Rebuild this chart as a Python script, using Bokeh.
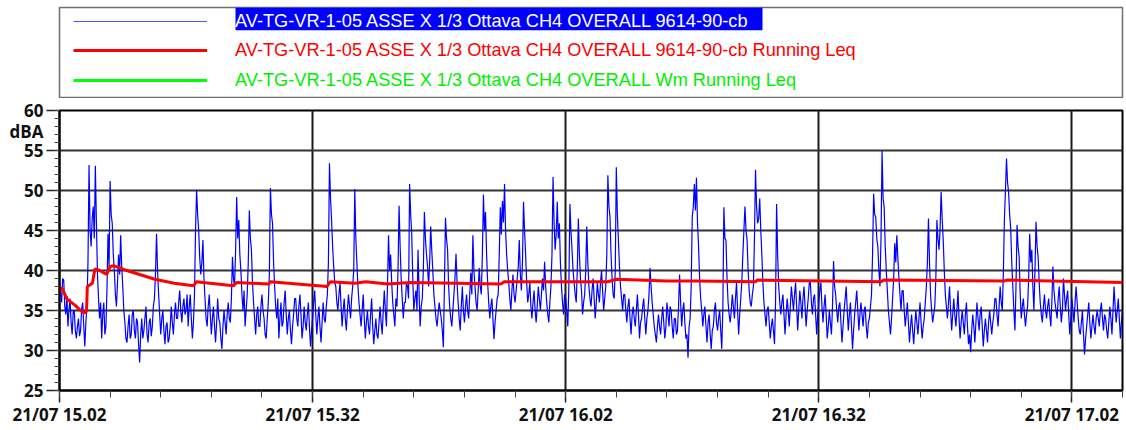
import numpy as np
import pandas as pd
from bokeh.plotting import figure
from bokeh.layouts import column
from bokeh.models import (FixedTicker, DatetimeTickFormatter, Range1d, Legend,
                          LegendItem, BoxAnnotation, LinearAxis, NumeralTickFormatter)
from bokeh.embed import file_html
from bokeh.resources import INLINE

# ---------------- data ----------------
start_time = "2021-07-21 15:02:00"
end_minutes = 126
sample_seconds = 7.5

series_names = [
    "AV-TG-VR-1-05 ASSE X 1/3 Ottava CH4 OVERALL 9614-90-cb",
    "AV-TG-VR-1-05 ASSE X 1/3 Ottava CH4 OVERALL 9614-90-cb Running Leq",
    "AV-TG-VR-1-05 ASSE X 1/3 Ottava CH4 OVERALL Wm Running Leq",
]

# 1/3 octave overall level, dBA, one value every 7.5 s (eight per minute, one row per minute)
level_dba = [
    38.5, 37.2, 36.0, 39.0, 38.8, 35.5, 34.5, 36.8,
    33.0, 35.0, 36.5, 33.5, 32.0, 34.8, 35.0, 32.5,
    31.5, 33.0, 34.0, 31.8, 32.5, 35.2, 36.0, 33.0,
    30.5, 33.5, 35.5, 41.0, 53.2, 45.0, 43.0, 46.5,
    48.0, 44.0, 53.1, 46.0, 39.5, 36.5, 34.0, 36.0,
    31.5, 34.5, 36.0, 32.0, 33.0, 37.5, 44.6, 40.5,
    51.2, 47.0, 45.9, 42.0, 40.0, 37.0, 35.5, 38.5,
    42.0, 39.5, 44.4, 40.5, 38.0, 35.0, 33.5, 31.5,
    31.0, 33.0, 34.5, 31.5, 32.0, 34.5, 35.0, 32.5,
    31.5, 34.0, 33.5, 30.8, 28.5, 32.0, 34.0, 31.5,
    32.5, 34.0, 35.5, 32.0, 31.0, 33.5, 34.0, 31.8,
    33.0, 35.5, 36.5, 39.5, 44.6, 40.0, 37.0, 34.5,
    32.0, 34.0, 35.0, 32.5, 30.8, 33.0, 33.5, 31.0,
    31.5, 33.0, 35.5, 33.5, 32.0, 34.5, 36.0, 34.0,
    34.0, 36.0, 37.5, 35.0, 33.5, 35.5, 36.5, 34.5,
    35.0, 37.0, 33.0, 35.5, 37.0, 34.0, 31.5, 33.5,
    37.0, 45.0, 50.1, 47.0, 45.0, 41.5, 39.5, 41.0,
    43.8, 39.0, 36.5, 34.0, 33.0, 35.5, 37.0, 34.5,
    32.0, 34.0, 35.5, 33.0, 31.0, 33.5, 36.5, 34.0,
    33.5, 31.5, 30.2, 33.0, 35.0, 33.5, 32.0, 34.5,
    36.0, 34.0, 33.5, 36.5, 41.7, 39.0, 38.0, 42.5,
    49.2, 44.0, 46.3, 42.0, 40.0, 37.0, 35.0, 37.5,
    33.0, 35.0, 37.0, 41.0, 47.5, 44.0, 42.6, 38.5,
    36.0, 34.0, 32.0, 34.5, 35.5, 33.0, 33.0, 35.5,
    37.0, 35.0, 34.0, 32.0, 31.5, 34.0, 36.0, 39.5,
    50.3, 47.0, 45.9, 41.0, 38.0, 35.5, 34.0, 36.5,
    31.5, 34.0, 36.0, 33.0, 33.5, 36.0, 37.5, 34.5,
    32.0, 34.0, 35.0, 32.5, 30.8, 33.0, 34.5, 36.5,
    36.5, 34.0, 33.0, 35.5, 37.0, 34.5, 31.5, 33.0,
    35.5, 33.5, 32.5, 34.5, 36.0, 33.0, 30.5, 32.5,
    34.0, 36.0, 37.5, 34.5, 32.0, 34.0, 35.5, 33.0,
    31.0, 33.5, 36.0, 34.0, 33.5, 35.5, 37.0, 41.0,
    53.4, 49.0, 46.3, 43.0, 40.5, 38.5, 38.0, 36.0,
    35.0, 37.0, 38.5, 35.5, 33.0, 35.0, 36.5, 34.0,
    32.5, 35.0, 37.0, 35.5, 34.0, 36.5, 38.0, 40.0,
    50.2, 44.0, 40.9, 38.0, 36.0, 34.5, 33.0, 35.0,
    37.0, 34.0, 31.5, 33.5, 35.0, 33.0, 32.0, 34.5,
    36.5, 33.0, 30.8, 32.5, 34.0, 32.0, 31.5, 33.5,
    35.5, 33.5, 32.0, 35.0, 37.5, 35.0, 33.0, 38.0,
    44.4, 40.0, 42.0, 38.5, 36.0, 34.5, 33.0, 36.5,
    35.5, 40.0, 48.1, 43.0, 39.0, 36.5, 34.0, 36.0,
    36.0, 38.5, 38.0, 36.5, 50.8, 47.0, 44.6, 39.0,
    35.0, 36.5, 37.5, 35.0, 42.6, 37.0, 33.0, 35.5,
    36.5, 40.0, 47.3, 44.0, 42.0, 40.5, 38.0, 41.0,
    45.5, 42.5, 40.0, 37.0, 35.5, 34.0, 33.0, 34.5,
    36.0, 35.0, 34.0, 32.5, 30.4, 38.0, 46.6, 44.0,
    42.6, 38.0, 35.5, 34.0, 33.0, 35.0, 37.0, 39.0,
    42.1, 38.5, 36.0, 34.0, 32.5, 35.5, 38.0, 35.0,
    33.5, 35.5, 37.0, 35.0, 34.0, 37.0, 39.7, 37.0,
    44.4, 40.0, 38.0, 36.0, 35.0, 37.5, 40.3, 38.0,
    37.0, 42.0, 49.5, 45.0, 47.3, 42.0, 38.5, 36.0,
    34.0, 35.5, 36.5, 34.0, 31.4, 33.5, 35.0, 36.5,
    37.0, 42.0, 47.9, 44.5, 48.7, 46.0, 50.8, 45.0,
    42.0, 40.0, 38.5, 36.5, 35.0, 37.5, 39.5, 37.0,
    36.0, 37.5, 39.0, 40.5, 43.8, 39.5, 37.5, 41.0,
    48.6, 45.0, 42.0, 38.5, 36.0, 37.0, 38.5, 35.5,
    34.0, 36.0, 37.5, 35.0, 33.5, 35.5, 38.0, 36.5,
    35.0, 37.0, 39.0, 37.5, 41.1, 38.0, 36.0, 34.5,
    33.5, 36.0, 38.0, 42.0, 51.7, 46.0, 42.6, 44.5,
    48.6, 44.0, 45.9, 41.0, 38.0, 36.0, 34.5, 37.0,
    36.5, 35.0, 33.0, 38.0, 48.3, 45.0, 42.6, 40.0,
    38.5, 37.0, 36.0, 40.0, 46.5, 42.0, 39.0, 37.5,
    34.5, 36.0, 37.0, 40.0, 45.5, 41.0, 38.0, 36.5,
    35.5, 37.5, 39.0, 36.5, 34.0, 36.0, 38.5, 37.0,
    36.0, 38.5, 40.0, 37.5, 35.0, 36.5, 38.0, 42.0,
    51.9, 48.0, 46.7, 42.0, 39.0, 37.0, 36.5, 40.0,
    52.9, 47.0, 43.8, 40.5, 38.0, 36.5, 35.0, 37.0,
    37.0, 35.0, 33.5, 35.5, 36.5, 34.0, 32.0, 34.5,
    35.5, 34.0, 33.0, 35.0, 37.0, 34.5, 31.5, 33.5,
    34.0, 35.5, 36.5, 34.0, 32.0, 34.0, 35.0, 37.0,
    40.3, 38.0, 36.0, 34.5, 33.0, 32.0, 31.0, 33.0,
    34.5, 33.0, 32.0, 34.0, 35.5, 33.5, 31.5, 33.0,
    36.0, 34.5, 33.0, 35.5, 35.0, 33.0, 31.5, 34.0,
    34.0, 32.0, 32.5, 35.5, 39.5, 36.0, 33.0, 35.0,
    36.0, 33.5, 31.5, 32.0, 29.1, 33.0, 34.0, 38.0,
    46.7, 48.0, 50.8, 47.5, 51.6, 46.0, 43.0, 39.0,
    36.5, 35.0, 33.0, 34.5, 35.5, 33.0, 31.0, 33.5,
    34.5, 32.0, 30.2, 32.5, 33.0, 35.0, 36.0, 33.5,
    32.5, 34.0, 35.0, 32.5, 30.2, 35.0, 47.9, 44.0,
    43.8, 39.0, 36.0, 34.5, 33.5, 35.0, 37.0, 35.5,
    34.0, 36.5, 38.5, 35.0, 32.0, 34.5, 36.5, 38.5,
    42.0, 45.0, 48.0, 45.0, 43.8, 40.0, 37.5, 36.0,
    35.5, 37.0, 38.0, 44.0, 52.6, 48.0, 45.9, 46.5,
    49.0, 45.0, 42.0, 38.5, 36.0, 34.5, 33.0, 35.0,
    35.5, 33.5, 31.5, 33.0, 34.0, 32.5, 30.8, 36.0,
    48.3, 42.0, 38.0, 36.0, 34.5, 36.0, 37.0, 34.5,
    32.0, 34.5, 36.5, 35.0, 33.0, 35.5, 38.0, 36.5,
    35.0, 37.0, 38.5, 35.5, 32.5, 35.0, 37.5, 36.0,
    34.0, 36.5, 38.0, 35.5, 33.0, 35.0, 36.5, 38.5,
    38.5, 36.0, 34.5, 36.5, 37.0, 34.5, 32.0, 34.5,
    36.0, 37.5, 38.5, 35.5, 33.5, 35.5, 37.0, 34.5,
    31.5, 33.0, 35.0, 33.5, 32.0, 35.5, 41.2, 38.0,
    37.0, 35.0, 33.5, 35.5, 36.0, 33.5, 31.0, 33.0,
    35.0, 36.5, 38.0, 35.0, 32.5, 34.5, 36.0, 33.0,
    30.2, 32.5, 34.5, 36.0, 37.5, 35.0, 32.5, 34.5,
    36.0, 34.5, 33.0, 35.0, 35.5, 33.0, 31.5, 33.5,
    34.0, 35.5, 37.0, 42.0, 49.6, 47.0, 46.7, 44.0,
    43.0, 40.0, 38.0, 44.0, 55.0, 49.0, 47.9, 43.0,
    40.0, 37.5, 35.0, 33.5, 32.0, 34.0, 36.5, 39.0,
    43.4, 41.0, 44.4, 41.5, 39.0, 37.0, 35.0, 37.5,
    37.5, 35.0, 33.0, 34.5, 36.0, 33.5, 31.0, 33.0,
    34.5, 32.5, 30.8, 33.0, 35.0, 33.5, 32.0, 34.0,
    36.0, 33.5, 31.5, 33.0, 34.0, 36.0, 38.0, 41.0,
    46.5, 41.0, 37.0, 35.0, 33.5, 34.5, 35.5, 39.0,
    46.3, 44.0, 42.6, 45.0, 49.8, 46.5, 43.8, 40.0,
    37.0, 35.5, 34.0, 36.0, 38.0, 35.0, 32.5, 34.5,
    36.5, 34.5, 33.0, 35.0, 37.5, 34.0, 31.5, 33.5,
    35.0, 33.5, 32.0, 34.5, 36.0, 33.0, 30.8, 32.0,
    29.8, 32.5, 34.5, 33.0, 31.0, 33.5, 36.0, 34.0,
    32.5, 34.5, 35.5, 33.0, 30.5, 32.5, 34.0, 32.5,
    31.0, 33.5, 35.0, 33.5, 32.0, 33.5, 34.5, 36.5,
    36.5, 34.5, 33.0, 35.5, 38.0, 36.0, 35.0, 39.5,
    46.3, 50.0, 54.0, 51.0, 49.8, 47.0, 45.2, 41.0,
    38.0, 35.0, 32.5, 38.0, 45.7, 43.0, 41.7, 37.0,
    34.0, 35.5, 36.5, 34.5, 33.0, 34.5, 35.5, 39.0,
    44.6, 41.0, 42.6, 38.0, 35.0, 40.0, 46.1, 43.0,
    41.7, 38.5, 36.0, 34.5, 33.5, 35.5, 37.0, 35.0,
    34.0, 35.5, 36.5, 34.5, 33.0, 36.0, 40.5, 37.5,
    36.0, 35.0, 34.0, 36.5, 38.0, 35.5, 33.5, 35.0,
    39.0, 37.0, 35.0, 36.5, 37.5, 34.5, 32.0, 34.0,
    36.5, 35.0, 33.5, 36.0, 38.0, 36.0, 34.0, 32.5,
    32.0, 33.5, 35.0, 32.0, 29.5, 31.5, 33.0, 34.5,
    36.0, 33.5, 31.5, 33.0, 34.5, 33.0, 32.0, 34.0,
    35.0, 34.0, 33.0, 35.0, 36.0, 34.0, 32.5, 34.5,
    34.0, 32.5, 31.5, 33.5, 35.5, 34.0, 32.0, 35.0,
    38.0, 35.5, 33.5, 35.0, 36.5, 34.0, 31.5, 33.5,
    35.0,
]

# running Leq (minutes after start, dBA)
leq_minutes = [0, 0.3, 0.9, 1.8, 2.5, 3.0, 3.2, 3.3, 3.9, 4.2, 4.6, 5.6, 6.0,
               6.4, 7.7, 11.3, 13.6, 15.9, 16.2, 20.6, 21.0, 24.8, 25.0, 31.7,
               32.1, 35.0, 36.3, 38.9, 41.6, 52.3, 52.7, 65.0, 66.0, 72.0,
               75.5, 82.5, 82.7, 91.0, 97.4, 97.7, 112.0, 112.3, 126.0]
leq_dba = [37.6, 37.8, 36.4, 35.7, 35.0, 34.7, 34.9, 38.0, 38.4, 40.2, 40.1,
           39.5, 40.5, 40.6, 40.1, 38.9, 38.4, 38.1, 38.6, 38.1, 38.5, 38.3,
           38.6, 38.0, 38.6, 38.4, 38.6, 38.3, 38.5, 38.3, 38.6, 38.6, 38.9,
           38.7, 38.7, 38.6, 38.8, 38.7, 38.6, 38.8, 38.7, 38.8, 38.5]

y_ticks = [25, 30, 35, 40, 45, 50, 55, 60]
y_minor_ticks = list(range(25, 61))
x_tick_times = ["2021-07-21 15:02", "2021-07-21 15:32", "2021-07-21 16:02",
                "2021-07-21 16:32", "2021-07-21 17:02"]
x_minor_step_minutes = 6
y_unit_label = "dBA"
y_unit_at = 57.4

# ---------------- derived ----------------
t0 = pd.Timestamp(start_time)
t_end = t0 + pd.Timedelta(minutes=end_minutes)
times = t0 + pd.to_timedelta(np.arange(len(level_dba)) * sample_seconds, unit="s")
leq_times = t0 + pd.to_timedelta(np.array(leq_minutes) * 60.0, unit="s")


def to_ms(ts):
    return float((pd.Timestamp(ts) - pd.Timestamp("1970-01-01")) / pd.Timedelta(milliseconds=1))


major_ms = [to_ms(s) for s in x_tick_times]
minor_ms = [to_ms(t0 + pd.Timedelta(minutes=m))
            for m in range(0, end_minutes + 1, x_minor_step_minutes)]

W = 1124
TICK_FONT = "Open Sans"
LEG_FONT = "Liberation Sans"
NAN = float("nan")

# ---------------- legend panel ----------------
leg = figure(width=W, height=98, output_backend="svg", toolbar_location=None,
             x_range=Range1d(0, 1063), y_range=Range1d(0, 91),
             x_axis_location=None, y_axis_location=None,
             min_border_left=59, min_border_right=2, min_border_top=7, min_border_bottom=0)
leg.grid.visible = False
leg.outline_line_color = "#6e6e6e"
leg.outline_line_width = 1.5
leg.background_fill_color = "white"

leg.add_layout(BoxAnnotation(left=176, right=703, bottom=68.3, top=91,
                             fill_color="#0000FF", fill_alpha=1.0, line_alpha=0,
                             level="underlay"))

leg_styles = [("#4a5cff", 1.2, "white", 66.5),
              ("#FF0000", 3, "#FF0000", 37.5),
              ("#00FF00", 3, "#00EE00", 7.5)]
for name, (lc, lw, tc, ypos) in zip(series_names, leg_styles):
    r = leg.line(x=[NAN], y=[NAN], line_color=lc, line_width=lw)
    lg = Legend(items=[LegendItem(label=name, renderers=[r])], location=(14, ypos),
                glyph_width=134, glyph_height=20, label_height=20, label_standoff=28,
                padding=0, margin=0, spacing=0, border_line_alpha=0,
                background_fill_alpha=0, label_text_font=LEG_FONT,
                label_text_font_size="18.2px", label_text_color=tc)
    leg.add_layout(lg)

# ---------------- chart ----------------
p = figure(width=W, height=330, x_axis_type="datetime", output_backend="svg",
           toolbar_location=None, x_range=Range1d(t0, t_end), y_range=Range1d(25, 60),
           min_border_left=59, min_border_right=2, min_border_top=12, min_border_bottom=35)

p.line(times, level_dba, line_color="#0000FF", line_width=1.2)
p.line(leq_times, leq_dba, line_color="#FF0000", line_width=3)

xt = FixedTicker(ticks=major_ms, minor_ticks=minor_ms)
yt = FixedTicker(ticks=y_ticks, minor_ticks=y_minor_ticks)
p.xaxis.ticker = xt
p.yaxis.ticker = yt
p.xgrid.ticker = xt
p.ygrid.ticker = yt
fmt = "%d/%m %H.%M"
p.xaxis.formatter = DatetimeTickFormatter(seconds=fmt, minsec=fmt, minutes=fmt,
                                          hourmin=fmt, hours=fmt, days=fmt)

# outer left axis carrying the numeric labels and the unit
ylab = LinearAxis(ticker=FixedTicker(ticks=y_ticks + [y_unit_at]),
                  formatter=NumeralTickFormatter(format="0"),
                  major_label_overrides={y_unit_at: y_unit_label},
                  axis_line_color=None, major_tick_line_color=None,
                  minor_tick_line_color=None, major_tick_in=0, major_tick_out=0,
                  minor_tick_in=0, minor_tick_out=0, major_label_standoff=3)
p.add_layout(ylab, "left")

for ax in (p.xaxis[0], ylab):
    ax.major_label_text_font = TICK_FONT
    ax.major_label_text_font_style = "bold"
    ax.major_label_text_font_size = "17px"
    ax.major_label_text_color = "#111111"

for ax in (p.xaxis[0], p.yaxis[0]):
    ax.axis_line_color = "black"
    ax.axis_line_width = 2
    ax.major_tick_line_color = "#222222"
    ax.minor_tick_line_color = "#444444"
    ax.major_tick_line_width = 1.5
    ax.minor_tick_line_width = 1
    ax.major_tick_in = 0
    ax.minor_tick_in = 0

# inner left axis: tick marks only, no labels drawn
p.yaxis[0].major_label_text_color = None
p.yaxis[0].major_label_standoff = 0
p.yaxis[0].major_tick_out = 13
p.yaxis[0].minor_tick_out = 5

p.xaxis.major_tick_out = 12
p.xaxis.minor_tick_out = 7
p.xaxis.major_label_standoff = 0

p.xgrid.grid_line_color = "#1a1a1a"
p.xgrid.grid_line_width = 2
p.ygrid.grid_line_color = "#333333"
p.ygrid.grid_line_width = 2
p.outline_line_color = "black"
p.outline_line_width = 2
p.outline_line_alpha = 1

layout = column(leg, p, spacing=0)
open("out.html", "w").write(file_html(layout, INLINE))
